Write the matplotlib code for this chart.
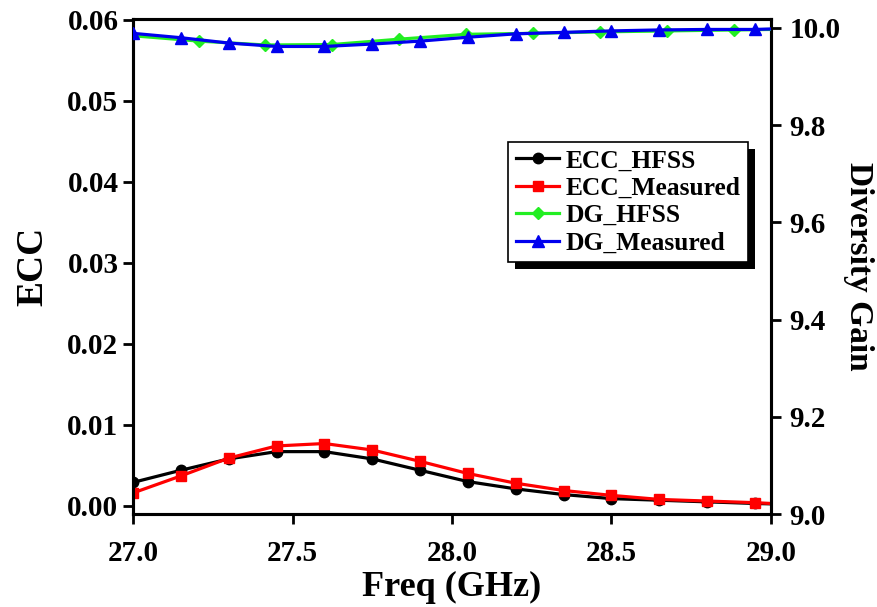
import matplotlib
matplotlib.use('Agg')
import matplotlib.pyplot as plt
from matplotlib.patches import Rectangle
from matplotlib.transforms import IdentityTransform

# frequency points (GHz)
freq = [27.0, 27.15, 27.3, 27.45, 27.6, 27.75, 27.9, 28.05, 28.2, 28.35,
        28.5, 28.65, 28.8, 28.95, 29.0]
freq_dg_hfss = [27.0, 27.207, 27.415, 27.625, 27.835, 28.045, 28.255,
                28.465, 28.675, 28.885, 29.0]

# ECC curves
ecc_hfss = [0.0029, 0.0044, 0.0058, 0.0067, 0.0067, 0.0058, 0.0044, 0.0030,
            0.0021, 0.0014, 0.0009, 0.0007, 0.0005, 0.0003, 0.00025]
ecc_measured = [0.0016, 0.0037, 0.0059, 0.0074, 0.0077, 0.0069, 0.0055, 0.0040,
                0.0028, 0.0019, 0.0013, 0.0008, 0.0006, 0.0004, 0.0003]

# diversity gain curves
dg_hfss = [9.984, 9.973, 9.965, 9.966, 9.977, 9.987, 9.989, 9.992, 9.994,
           9.996, 9.997]
dg_measured = [9.989, 9.980, 9.969, 9.962, 9.962, 9.967, 9.973, 9.981, 9.988,
               9.991, 9.994, 9.996, 9.997, 9.997, 9.998]

ecc_ticks = [0.00, 0.01, 0.02, 0.03, 0.04, 0.05, 0.06]
dg_ticks = [9.0, 9.2, 9.4, 9.6, 9.8, 10.0]
freq_ticks = [27.0, 27.5, 28.0, 28.5, 29.0]

plt.rcParams['font.family'] = ['Liberation Serif', 'DejaVu Serif']
plt.rcParams['font.weight'] = 'bold'

fig = plt.figure(figsize=(8.78, 6.07), dpi=100)
ax = fig.add_axes([0.1515, 0.1532, 0.7266, 0.8155])
ax2 = ax.twinx()

lw = 2.3
ms = 7.5
l1, = ax.plot(freq, ecc_hfss, color='black', lw=lw, marker='o', ms=ms,
              markevery=slice(0, 14), label='ECC_HFSS', zorder=3)
l2, = ax.plot(freq, ecc_measured, color='#ff0000', lw=lw, marker='s', ms=ms - 0.5,
              markevery=slice(0, 14), label='ECC_Measured', zorder=4)
l3, = ax2.plot(freq_dg_hfss, dg_hfss, color='#22ee22', lw=lw, marker='D', ms=ms - 1,
               markevery=slice(1, 10), label='DG_HFSS', zorder=3)
l4, = ax2.plot(freq, dg_measured, color='#0000ee', lw=lw, marker='^', ms=ms + 0.5,
               markevery=slice(0, 14), label='DG_Measured', zorder=4)

ax.set_xlim(27.0, 29.0)
ax.set_ylim(-0.001, 0.0601)
ax2.set_ylim(9.0, 10.0185)
ax.set_xticks(freq_ticks)
ax.set_xticklabels(['%.1f' % t for t in freq_ticks])
ax.set_yticks(ecc_ticks)
ax.set_yticklabels(['%.2f' % t for t in ecc_ticks])
ax2.set_yticks(dg_ticks)
ax2.set_yticklabels(['%.1f' % t for t in dg_ticks])

for a in (ax, ax2):
    for s in a.spines.values():
        s.set_linewidth(2.2)
    a.tick_params(direction='out', length=7.5, width=2, labelsize=21)
ax.tick_params(axis='x', pad=11)
ax.tick_params(axis='y', pad=3)
ax2.tick_params(axis='y', pad=6)

ax.set_xlabel('Freq (GHz)', fontsize=26, fontweight='bold', labelpad=3)
ax.set_ylabel('ECC', fontsize=27, fontweight='bold', labelpad=12)
ax2.set_ylabel('Diversity Gain', fontsize=24, fontweight='bold', rotation=270,
               labelpad=24)

leg = ax2.legend(handles=[l1, l2, l3, l4], loc='upper left',
                 bbox_to_anchor=(0.588, 0.752), fancybox=False,
                 edgecolor='black', framealpha=1, numpoints=1,
                 prop={'size': 18.4, 'weight': 'bold'}, handlelength=1.7,
                 handletextpad=0.25, labelspacing=0.17, borderpad=0.3,
                 borderaxespad=0)
leg.get_frame().set_linewidth(1.2)
leg.set_zorder(10)

# black drop shadow behind the legend box
fig.canvas.draw()
bb = leg.get_window_extent()
shadow = Rectangle((bb.x0 + 7, bb.y0 - 7), bb.width, bb.height,
                   transform=IdentityTransform(), facecolor='black',
                   edgecolor='none', zorder=9)
ax2.add_artist(shadow)

fig.savefig('out.png', dpi=100)
